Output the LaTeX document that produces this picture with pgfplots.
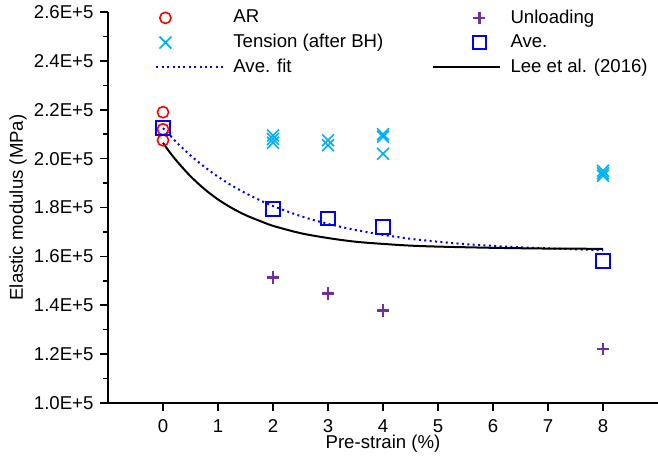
\documentclass[border=0pt]{standalone}
\usepackage{pgfplots}
\pgfplotsset{compat=1.18}
\usepackage{fontspec}
\setmainfont{Liberation Sans}
\usetikzlibrary{calc}
\definecolor{arred}{RGB}{255,0,0}
\definecolor{tcyan}{RGB}{0,176,240}
\definecolor{upurple}{RGB}{112,48,160}
\definecolor{aveblue}{RGB}{0,0,255}
\pgfplotsset{
 mkA/.style={legend image code/.code={\draw[##1,only marks] plot coordinates {(4.5pt,0pt)}; \path (0pt,0pt) (33.5pt,0pt);}},
 mkB/.style={legend image code/.code={\draw[##1,only marks] plot coordinates {(23pt,0pt)}; \path (0pt,0pt) (33.5pt,0pt);}},
 ln/.style={legend image code/.code={\draw[##1] (0pt,0pt) -- (33.5pt,0pt);}},
}
\begin{document}
\fontsize{9.3}{11}\selectfont
\begin{tikzpicture}
\begin{axis}[
 scale only axis, width=275pt, height=195.5pt,
 xmin=-1, xmax=9, ymin=100000, ymax=260000,
 axis x line*=bottom, axis y line*=left,
 x axis line style={-, line width=0.8pt}, y axis line style={-, line width=0.8pt},
 tick align=outside, major tick length=4pt, minor tick length=2.5pt,
 tick style={black, line width=0.8pt},
 xtick={0,1,2,3,4,5,6,7,8}, minor x tick num=0,
 ytick={100000,120000,140000,160000,180000,200000,220000,240000,260000},
 yticklabels={1.0E+5,1.2E+5,1.4E+5,1.6E+5,1.8E+5,2.0E+5,2.2E+5,2.4E+5,2.6E+5},
 minor y tick num=1,
 scaled y ticks=false,
 /pgf/number format/assume math mode=true,
 xticklabel style={yshift=-1.2pt},
 xlabel={Pre-strain (\%)}, ylabel={Elastic modulus (MPa)},
 xlabel style={at={(axis description cs:0.5,-0.104)}, anchor=center},
 ylabel style={at={(axis description cs:-0.1636,0.5)}, anchor=center},
 legend columns=2,
 legend cell align=left,
 legend style={draw=none, fill=none, at={(0.0855,1.017)}, anchor=north west, inner sep=0pt,
   /tikz/every odd column/.append style={column sep=2.5pt},
   /tikz/every even column/.append style={column sep=22.5pt}, row sep=0.2pt},
]
\addplot[only marks, mkA, mark=o, color=arred, mark size=2.8pt, line width=0.8pt]
 coordinates {(0,219000) (0,212000) (0,207500)};
\addlegendentry{AR}
\addplot[only marks, mkB, mark=+, color=upurple, mark size=3pt, line width=1.1pt]
 coordinates {(2,151500) (2,151000) (3,145000) (3,144500) (4,138000) (4,137500) (8,122000)};
\addlegendentry{Unloading}
\addplot[only marks, mkA, mark=x, color=tcyan, mark size=4.2pt, line width=0.8pt]
 coordinates {(2,209500) (2,208000) (2,206500) (3,207500) (3,205500) (4,210000) (4,209000) (4,202000) (8,195000) (8,194000) (8,193000)};
\addlegendentry{Tension (after BH)}
\addplot[only marks, mkB, mark=square, color=aveblue, mark size=3.4pt, line width=1pt]
 coordinates {(0,212500) (2,179500) (3,175500) (4,172000) (8,158000)};
\addlegendentry{Ave.}
\addplot[ln, color=aveblue, line width=1pt, dash pattern=on 1pt off 1.7pt, smooth]
 table {
 x y
 0 212500
 0.25 206600
 0.5 201300
 0.75 196700
 1 192600
 1.25 189000
 1.5 185900
 1.75 183100
 2 180600
 2.5 176500
 3 173300
 3.5 170800
 4 168800
 4.5 167200
 5 166000
 5.5 165000
 6 164300
 6.5 163700
 7 163300
 7.5 162900
 8 162500
 };
\addlegendentry{Ave. fit}
\addplot[ln, color=black, line width=1pt, smooth]
 table {
 x y
 0 206500
 0.1 203300
 0.25 199000
 0.5 192800
 0.75 187600
 1 183300
 1.25 179800
 1.5 176900
 1.75 174600
 2 172500
 2.5 169500
 3 167500
 3.5 166000
 4 165100
 4.5 164400
 5 164000
 6 163500
 7 163200
 8 163100
 };
\addlegendentry{Lee et al. (2016)}
\end{axis}
\pgfresetboundingbox
\path ($(current axis.south west)+(-54pt,-28pt)$) rectangle ($(current axis.north east)+(0pt,6pt)$);
\end{tikzpicture}
\end{document}
